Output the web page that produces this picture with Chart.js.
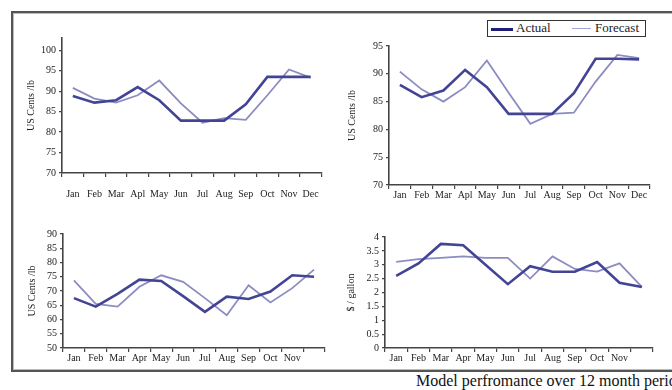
<!DOCTYPE html>
<html>
<head>
<meta charset="utf-8">
<script src="https://cdn.jsdelivr.net/npm/chart.js@4.4.0/dist/chart.umd.min.js"></script>
<style>
    body { margin: 0; width: 672px; height: 390px; overflow: hidden; background: #fff; position: relative; font-family: "Liberation Serif", "Times New Roman", serif; }
    .frame { position: absolute; left: 11px; top: 11px; width: 720px; height: 357px; border: 2px solid #555; box-shadow: inset 0 0 0 1px #bbb; }
    canvas { position: absolute; }
    .legend { position: absolute; left: 487px; top: 20px; width: 157px; height: 15px; border: 1px solid #333; background: #fff; font-size: 13px; color: #222; }
    .legend span.line { position: absolute; top: 7px; }
    .legend span.text { position: absolute; top: -1px; }
    .caption { position: absolute; left: 416px; top: 372px; font-size: 16px; white-space: nowrap; color: #111; }
</style>
</head>
<body>
<div class="frame"></div>
<canvas id="chart-1" width="315" height="180" style="left:15px;top:25px"></canvas>
<canvas id="chart-2" width="322" height="170" style="left:335px;top:35px"></canvas>
<canvas id="chart-3" width="315" height="150" style="left:15px;top:220px"></canvas>
<canvas id="chart-4" width="325" height="150" style="left:335px;top:220px"></canvas>
<div class="legend">
    <span class="line" style="left:3px;width:22px;height:3px;background:#1e1e78"></span>
    <span class="text" style="left:28px">Actual</span>
    <span class="line" style="left:84px;width:19px;height:1px;background:#a4a4d4"></span>
    <span class="text" style="left:107px">Forecast</span>
</div>
<div class="caption">Model perfromance over 12 month period</div>

<script>
var months = ['Jan', 'Feb', 'Mar', 'Apl', 'May', 'Jun', 'Jul', 'Aug', 'Sep', 'Oct', 'Nov', 'Dec'];
var monthsBottom = ['Jan', 'Feb', 'Mar', 'Apr', 'May', 'Jun', 'Jul', 'Aug', 'Sep', 'Oct', 'Nov', ''];

// top left
var actual1 = [88.8, 87.2, 87.8, 91.0, 87.8, 82.8, 82.8, 82.8, 86.8, 93.5, 93.5, 93.5];
var forecast1 = [90.8, 88.2, 87.2, 89.0, 92.6, 87.0, 82.3, 83.4, 83.0, 89.0, 95.3, 93.3];
var ticks1 = [70, 75, 80, 85, 90, 95, 100];

// top right
var actual2 = [88.0, 85.8, 87.0, 90.7, 87.6, 82.8, 82.8, 82.8, 86.5, 92.7, 92.7, 92.6];
var forecast2 = [90.4, 87.2, 85.0, 87.6, 92.4, 86.6, 81.0, 82.8, 83.0, 88.6, 93.4, 92.8];
var ticks2 = [70, 75, 80, 85, 90, 95];

// bottom left
var actual3 = [67.5, 64.5, 69.0, 74.0, 73.5, 68.2, 62.7, 68.0, 67.2, 69.8, 75.5, 75.0];
var forecast3 = [73.7, 65.5, 64.5, 71.5, 75.5, 73.2, 67.5, 61.5, 72.0, 66.0, 71.0, 77.5];
var ticks3 = [50, 55, 60, 65, 70, 75, 80, 85, 90];

// bottom right
var actual4 = [2.6, 3.05, 3.75, 3.7, 3.0, 2.3, 2.95, 2.75, 2.75, 3.1, 2.35, 2.2];
var forecast4 = [3.1, 3.2, 3.25, 3.3, 3.25, 3.25, 2.5, 3.3, 2.85, 2.75, 3.05, 2.2];
var ticks4 = [0, 0.5, 1, 1.5, 2, 2.5, 3, 3.5, 4];

var serif = '"Liberation Serif", "Times New Roman", serif';
var actualColor = 'rgb(68, 68, 150)';
var forecastColor = 'rgb(140, 140, 195)';

function makeChart(id, labels, actual, forecast, tickList, yMin, yMax, yTitle, s) {
    return new Chart(document.getElementById(id), {
        type: 'line',
        data: {
            labels: labels,
            datasets: [
                { label: 'Actual', data: actual, borderColor: actualColor, borderWidth: 2.6, pointRadius: 0, tension: 0 },
                { label: 'Forecast', data: forecast, borderColor: forecastColor, borderWidth: 1.8, pointRadius: 0, tension: 0 }
            ]
        },
        options: {
            responsive: false,
            animation: false,
            layout: { padding: { top: s.top, right: s.right, left: 0, bottom: 0 } },
            plugins: {
                legend: { display: false },
                tooltip: { enabled: false }
            },
            scales: {
                x: {
                    offset: true,
                    grid: { offset: true, drawOnChartArea: false, tickLength: 4, color: '#444', lineWidth: 1.2 },
                    border: { color: '#444', width: 1.6 },
                    ticks: { font: { family: serif, size: 10 }, color: '#222', padding: s.xPad, maxRotation: 0, autoSkip: false },
                    afterFit: function (scale) { scale.height = s.xHeight; }
                },
                y: {
                    min: yMin,
                    max: yMax,
                    afterBuildTicks: function (scale) {
                        scale.ticks = tickList.map(function (v) { return { value: v }; });
                    },
                    grid: { drawOnChartArea: false, tickLength: 3, color: '#444', lineWidth: 1.2 },
                    border: { color: '#444', width: 1.6 },
                    ticks: {
                        font: { family: serif, size: 10 }, color: '#222', padding: 3, autoSkip: false,
                        callback: function (value) { return String(value); }
                    },
                    title: { display: true, text: yTitle, font: { family: serif, size: 10 }, color: '#222', padding: { top: s.titlePad, bottom: 0 } },
                    afterFit: function (scale) { scale.width = s.yWidth; }
                }
            }
        }
    });
}

makeChart('chart-1', months, actual1, forecast1, ticks1, 70, 103, 'US Cents /lb',
    { top: 13, right: 8, xHeight: 32, xPad: 11, yWidth: 47, titlePad: 10 });
makeChart('chart-2', months, actual2, forecast2, ticks2, 70, 95, 'US Cents /lb',
    { top: 11, right: 7, xHeight: 20, xPad: 0, yWidth: 54, titlePad: 11 });
makeChart('chart-3', monthsBottom, actual3, forecast3, ticks3, 50, 90, 'US Cents /lb',
    { top: 14, right: 5, xHeight: 22, xPad: 0, yWidth: 48, titlePad: 11 });
makeChart('chart-4', monthsBottom, actual4, forecast4, ticks4, 0, 4, '$ / gallon',
    { top: 17, right: 7, xHeight: 22, xPad: 0, yWidth: 50, titlePad: 10 });
</script>
</body>
</html>
